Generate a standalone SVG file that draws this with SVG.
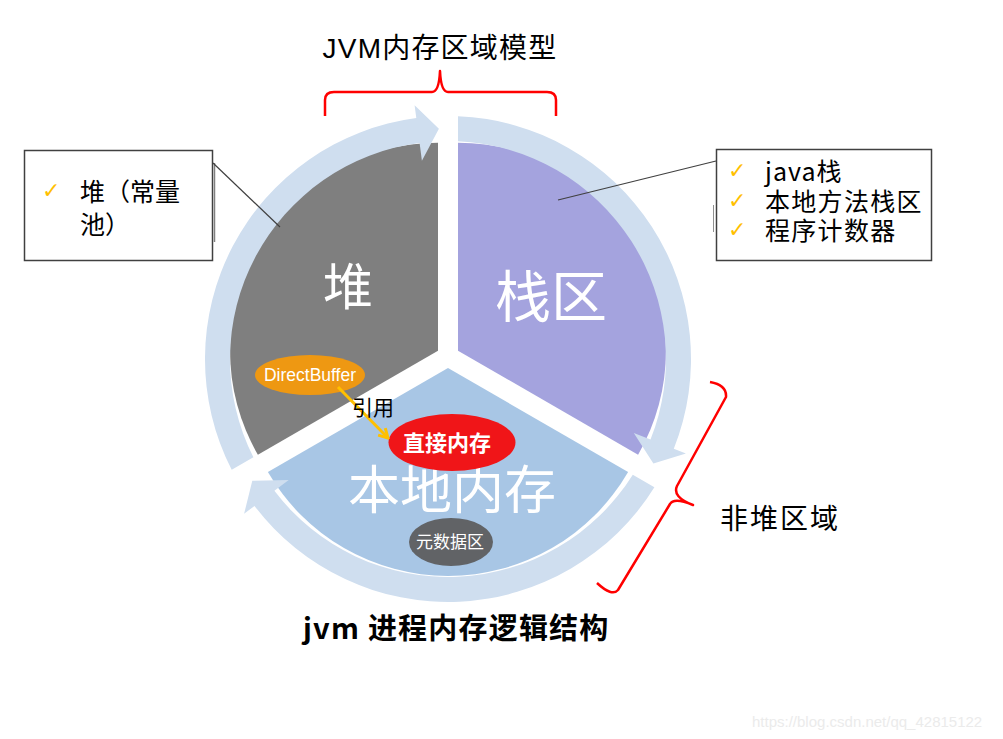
<svg xmlns="http://www.w3.org/2000/svg" width="1003" height="739" viewBox="0 0 1003 739">
<defs>
<style>
.cjk{font-family:"Noto Sans CJK SC","Liberation Sans",sans-serif;}
.lat{font-family:"Liberation Sans","Noto Sans CJK SC",sans-serif;}
.big{fill:#ffffff;text-anchor:middle;font-family:"Noto Sans CJK SC",sans-serif;}
.ring{fill:#cfdeef;}
.box{fill:#ffffff;stroke:#404040;stroke-width:1.5;}
.lead{stroke:#404040;stroke-width:1.2;fill:none;}
.chk{fill:#ffc000;font-family:"DejaVu Sans",sans-serif;font-size:22px;}
.brace{fill:none;stroke:#ff0000;stroke-width:2.5;stroke-linejoin:round;}
</style>
<marker id="gold" markerUnits="userSpaceOnUse" viewBox="0 0 14 14" markerWidth="14" markerHeight="14" refX="12" refY="7" orient="auto">
<path d="M3,2 L12,7 L3,12" fill="none" stroke="#ffc000" stroke-width="3"/>
</marker>
</defs>
<rect width="1003" height="739" fill="#ffffff"/>

<g id="title">
<text x="440" y="58" class="lat" font-size="28" letter-spacing="1.2" text-anchor="middle" fill="#000">JVM内存区域模型</text>
<path class="brace" d="M325,116 L325,100 Q325,92 334,92 L432,92 Q439,92 440,71 Q441,92 448,92 L547,92 Q556,92 556,100 L556,116"/>
</g>

<g id="heap">
<path d="M438,350.75 L257.9,454.75 A208,208 0 0 1 438,142.75 Z" fill="#7f7f7f"/>
<text x="348" y="305" class="big" font-size="50">堆</text>
</g>

<g id="stack">
<path d="M458,350.75 L458,142.75 A208,208 0 0 1 638.1,454.75 Z" fill="#a4a3de"/>
<text x="551" y="317" class="big" font-size="56">栈区</text>
</g>

<g id="native">
<path d="M448,368 L628.1,472 A208,208 0 0 1 267.9,472 Z" fill="#a8c6e5"/>
<text x="452" y="509" class="big" font-size="52">本地内存</text>
</g>

<g id="ring">
<path class="ring" d="M231.7,469.8 A243,243 0 0 1 416.3,118.1 L414.6,105.2 L438.9,128.7 L421.9,160.7 L419.6,142.9 A218,218 0 0 0 253.4,457.3 Z"/>
<path class="ring" d="M458,116.2 A243,243 0 0 1 673.8,448.8 L685.9,453.6 L653.4,463.6 L633.8,432.9 L650.5,439.6 A218,218 0 0 0 458,141.2 Z"/>
<path class="ring" d="M654.4,487.2 A243,243 0 0 1 254.5,505.9 L244.1,513.8 L252.3,480.8 L288.7,479.9 L274.4,490.8 A218,218 0 0 0 632.8,474.7 Z"/>
</g>

<g id="directbuffer">
<ellipse cx="310" cy="375" rx="55" ry="20" fill="#ee9812"/>
<text x="310" y="381" class="lat" font-size="17.5" fill="#ffffff" text-anchor="middle">DirectBuffer</text>
</g>

<g id="direct-memory">
<ellipse cx="452" cy="442.5" rx="63.5" ry="28.5" fill="#f01518"/>
<text x="447" y="451" class="cjk" font-size="22" font-weight="bold" fill="#ffffff" text-anchor="middle">直接内存</text>
</g>

<g id="metaspace">
<ellipse cx="451" cy="542" rx="42" ry="24" fill="#616366"/>
<text x="450" y="548" class="cjk" font-size="17" fill="#ffffff" text-anchor="middle">元数据区</text>
</g>

<g id="heap-box">
<rect x="24.5" y="150.5" width="188" height="110" class="box"/>
<line x1="214.5" y1="163" x2="214.5" y2="242" stroke="#808080" stroke-width="1.5"/>
<text x="42" y="198" class="chk">✓</text>
<text x="80" y="201" class="cjk" font-size="25" fill="#000">堆（常量</text>
<text x="80" y="234" class="cjk" font-size="25" fill="#000">池）</text>
</g>

<g id="stack-box">
<rect x="716.5" y="149.5" width="215" height="111" class="box"/>
<line x1="713.5" y1="205" x2="713.5" y2="232" stroke="#909090" stroke-width="1"/>
<text x="728" y="178" class="chk">✓</text>
<text x="728" y="208" class="chk">✓</text>
<text x="728" y="237" class="chk">✓</text>
<text x="765" y="181" class="cjk" font-size="25" letter-spacing="1" fill="#000">java栈</text>
<text x="765" y="211" class="cjk" font-size="25" letter-spacing="1.3" fill="#000">本地方法栈区</text>
<text x="765" y="240" class="cjk" font-size="25" letter-spacing="1.3" fill="#000">程序计数器</text>
</g>

<g id="non-heap">
<path class="brace" d="M710,382 Q727,385 726,397 L677,486 Q672,497 693,505 Q674,497 670,504 L618,590 Q612,597 597,583"/>
<text x="720" y="529" class="cjk" font-size="28" letter-spacing="2" fill="#000">非堆区域</text>
</g>

<g id="connectors">
<line class="lead" x1="213" y1="163" x2="280" y2="227"/>
<line class="lead" x1="716" y1="161" x2="558" y2="200"/>
<line x1="338" y1="387" x2="388" y2="438" stroke="#ffc000" stroke-width="3" marker-end="url(#gold)"/>
<text x="373" y="415" class="cjk" font-size="21" fill="#000" text-anchor="middle">引用</text>
</g>

<g id="caption">
<text x="303" y="639" class="cjk" font-size="29" font-weight="bold" letter-spacing="1.2" fill="#000">jvm 进程内存逻辑结构</text>
<text x="752" y="727" class="lat" font-size="15" fill="#ebebeb">https://blog.csdn.net/qq_42815122</text>
</g>
</svg>
